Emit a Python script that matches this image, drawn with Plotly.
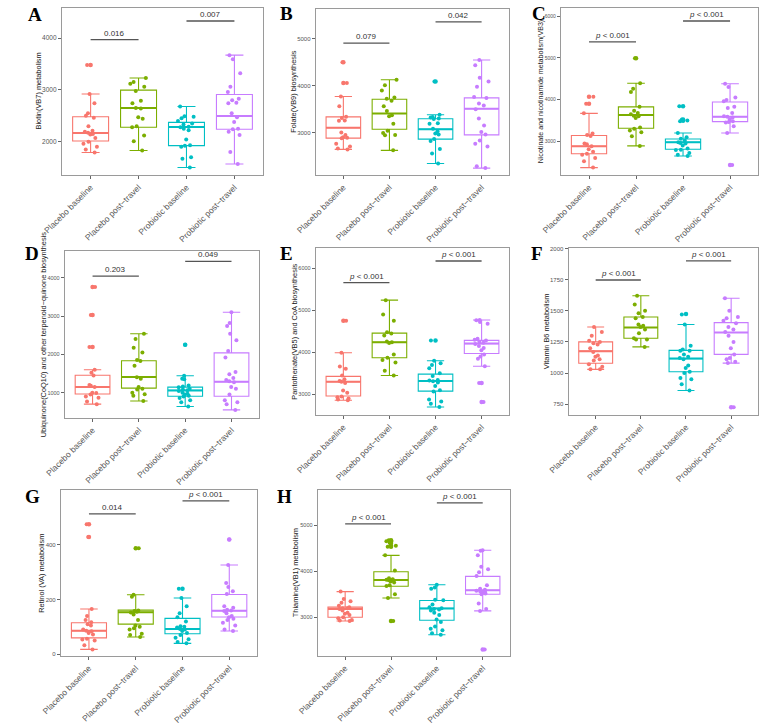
import plotly.graph_objects as go

W, H = 767, 725

CATS = ["Placebo baseline", "Placebo post\u2212travel", "Probiotic baseline", "Probiotic post\u2212travel"]
COLORS = ["#F8766D", "#7CAE00", "#00BFC4", "#C77CFF"]
PVAL = "<i>p</i> < 0.001"

# ---------------- Panel A ----------------
A_TITLE = "Biotin(VB7) metabolism"
A_PB = [3480, 2920, 2740, 2550, 2500, 2460, 2300, 2210, 2190, 2170, 2150, 2140, 2070, 2000, 1960, 1900, 1850, 1790]
A_PT = [3230, 3150, 3120, 3060, 2980, 2790, 2740, 2650, 2640, 2470, 2440, 2300, 2280, 2120, 2010, 1830]
A_RB = [2680, 2490, 2480, 2450, 2400, 2350, 2330, 2290, 2280, 2250, 2220, 2040, 1930, 1920, 1900, 1700, 1670, 1500]
A_RT = [3670, 3590, 3320, 3060, 2960, 2830, 2800, 2750, 2740, 2550, 2470, 2380, 2250, 2240, 2190, 2130, 1800, 1570]
A_BOX = [[2013, 2165, 2481, 1790, 2920], [2278, 2652, 2994, 1830, 3230], [1924, 2285, 2373, 1500, 2680], [2241, 2494, 2911, 1570, 3670]]
A_OUT = [[3480], [], [], []]
A_SIG = [3968, 4329]
A_SIGTXT = ["0.016", "0.007"]
A_TICKS = [2000, 3000, 4000]

# ---------------- Panel B ----------------
B_TITLE = "Folate(VB9) biosynthesis"
B_PB = [4500, 4060, 3770, 3560, 3340, 3310, 3260, 3250, 3000, 2950, 2900, 2890, 2880, 2760, 2700, 2660, 2640]
B_PT = [4130, 4010, 3900, 3750, 3720, 3680, 3560, 3460, 3370, 3350, 3190, 3040, 2990, 2950, 2940, 2620]
B_RB = [4090, 3380, 3330, 3320, 3300, 3290, 3200, 3190, 3080, 3030, 2980, 2960, 2860, 2820, 2650, 2550, 2340]
B_RT = [4550, 4440, 4170, 4090, 3980, 3760, 3740, 3620, 3580, 3500, 3300, 3150, 3010, 2960, 2830, 2760, 2700, 2280, 2240]
B_BOX = [[2881, 3105, 3336, 2640, 3770], [3070, 3406, 3713, 2620, 4130], [2860, 3070, 3294, 2340, 3380], [2951, 3510, 3741, 2240, 4550]]
B_OUT = [[4500, 4060], [], [4090], []]
B_SIG = [4909, 5364]
B_SIGTXT = ["0.079", "0.042"]
B_TICKS = [3000, 4000, 5000]

# ---------------- Panel C ----------------
C_TITLE = "Nicotinate and nicotinamide metabolism(VB3)"
C_PB = [4070, 3900, 3670, 3190, 3150, 3130, 2950, 2930, 2880, 2810, 2750, 2700, 2680, 2600, 2520, 2370]
C_PT = [4990, 4390, 4260, 4180, 3830, 3730, 3680, 3650, 3610, 3600, 3560, 3330, 3300, 3260, 3220, 3120, 2890]
C_RB = [3840, 3520, 3500, 3480, 3200, 3100, 3060, 3020, 2980, 2960, 2950, 2900, 2830, 2800, 2790, 2720, 2680, 2650]
C_RT = [4380, 4300, 4050, 3990, 3960, 3830, 3800, 3680, 3600, 3590, 3570, 3520, 3480, 3460, 3450, 3360, 3200, 2430]
C_BOX = [[2701, 2881, 3141, 2370, 3670], [3313, 3628, 3824, 2890, 4390], [2811, 2976, 3054, 2650, 3200], [3471, 3588, 3942, 3200, 4380]]
C_OUT = [[4070, 3900], [4990], [3840, 3520, 3490], [2430]]
C_SIG = [5380, 5882]
C_SIGTXT = [PVAL, PVAL]
C_TICKS = [3000, 4000, 5000, 6000]

# ---------------- Panel D ----------------
D_TITLE = "Ubiquinone(CoQ10) and other terpenoid\u2212quinone biosynthesis"
D_PB = [3760, 3030, 2190, 1600, 1520, 1450, 1200, 1180, 1150, 1000, 990, 950, 900, 870, 770, 700]
D_PT = [2540, 2400, 2170, 2050, 1850, 1830, 1700, 1400, 1360, 1150, 1100, 1080, 1000, 960, 920, 780]
D_RB = [2250, 1440, 1360, 1350, 1190, 1160, 1140, 1100, 1080, 1060, 1040, 1000, 970, 950, 920, 900, 860, 800, 750, 640]
D_RT = [3100, 2820, 2740, 2540, 2370, 2090, 1920, 1540, 1480, 1380, 1330, 1300, 1270, 1150, 1100, 950, 800, 750, 700, 550]
D_BOX = [[965, 1145, 1455, 700, 1600], [1119, 1412, 1833, 780, 2540], [905, 1059, 1145, 640, 1440], [905, 1283, 2040, 550, 3100]]
D_OUT = [[3760, 3030, 2190], [], [2250], []]
D_SIG = [4043, 4430]
D_SIGTXT = ["0.203", "0.049"]
D_TICKS = [1000, 2000, 3000, 4000]

# ---------------- Panel E ----------------
E_TITLE = "Pantothenate(VB5) and CoA biosynthesis"
E_PB = [4750, 3990, 3660, 3610, 3450, 3360, 3320, 3300, 3270, 3090, 3040, 2950, 2930, 2900, 2880, 2860]
E_PT = [5240, 4900, 4750, 4480, 4450, 4400, 4260, 4240, 4220, 3950, 3870, 3820, 3760, 3560, 3450]
E_RB = [4280, 3800, 3740, 3700, 3620, 3500, 3440, 3340, 3330, 3310, 3280, 3200, 3100, 3070, 2880, 2830, 2780, 2700]
E_RT = [4770, 4760, 4720, 4680, 4320, 4300, 4280, 4250, 4230, 4200, 4150, 4100, 4050, 3950, 3900, 3850, 3670, 3270, 2820]
E_BOX = [[2960, 3303, 3428, 2860, 3990], [3872, 4239, 4457, 3450, 5240], [3077, 3319, 3482, 2700, 3800], [3973, 4207, 4285, 3670, 4770]]
E_OUT = [[4750], [], [4280], [3270, 2820]]
E_SIG = [5657, 6171]
E_SIGTXT = [PVAL, PVAL]
E_TICKS = [3000, 4000, 5000, 6000]

# ---------------- Panel F ----------------
F_TITLE = "Vitamin B6 metabolism"
F_PB = [1370, 1330, 1300, 1260, 1250, 1240, 1230, 1200, 1170, 1140, 1130, 1110, 1100, 1070, 1050, 1030, 1030]
F_PT = [1620, 1550, 1500, 1480, 1450, 1440, 1390, 1380, 1370, 1350, 1320, 1280, 1270, 1270, 1210]
F_RB = [1470, 1390, 1220, 1190, 1180, 1180, 1150, 1130, 1120, 1110, 1060, 1040, 1010, 1000, 960, 950, 910, 860]
F_RT = [1600, 1500, 1450, 1440, 1420, 1400, 1370, 1350, 1330, 1300, 1250, 1200, 1150, 1120, 1110, 1090, 1080, 725]
F_BOX = [[1079, 1176, 1250, 1030, 1370], [1279, 1366, 1450, 1210, 1620], [1011, 1116, 1182, 860, 1390], [1150, 1326, 1405, 1080, 1600]]
F_OUT = [[], [], [1474], [725]]
F_SIG = [1747, 1900]
F_SIGTXT = [PVAL, PVAL]
F_TICKS = [750, 1000, 1250, 1500, 1750, 2000]

# ---------------- Panel G ----------------
G_TITLE = "Retinol (VA) metabolism"
G_PB = [474, 427, 165, 140, 125, 117, 110, 105, 90, 86, 84, 78, 72, 57, 54, 50, 33, 18]
G_PT = [386, 217, 210, 160, 158, 155, 152, 145, 125, 105, 100, 95, 90, 75, 70, 63]
G_RB = [239, 205, 175, 150, 135, 120, 102, 100, 98, 92, 90, 85, 78, 70, 60, 55, 45, 40]
G_RT = [418, 325, 260, 245, 230, 220, 175, 170, 162, 160, 158, 150, 140, 135, 130, 125, 115, 105, 90, 85]
G_BOX = [[60, 86, 115, 18, 165], [110, 153, 161, 63, 217], [75, 92, 131, 40, 205], [136, 159, 218, 85, 325]]
G_OUT = [[474, 427], [386], [239], [418]]
G_SIG = [511, 559]
G_SIGTXT = ["0.014", PVAL]
G_TICKS = [0, 200, 400]

# ---------------- Panel H ----------------
H_TITLE = "Thiamine(VB1) metabolism"
H_PB = [3560, 3400, 3350, 3320, 3250, 3220, 3200, 3200, 3180, 3150, 3100, 3080, 3050, 3000, 2980, 2940, 2930, 2920]
H_PT = [4680, 4660, 4620, 4560, 4540, 4350, 4020, 3850, 3830, 3820, 3810, 3800, 3780, 3760, 3700, 3680, 3500, 3420, 2920]
H_RB = [3710, 3650, 3620, 3380, 3370, 3280, 3220, 3200, 3180, 3170, 3150, 3100, 3050, 2950, 2900, 2800, 2750, 2720, 2650, 2620]
H_RT = [4460, 4450, 4350, 4100, 4050, 3980, 3900, 3700, 3620, 3600, 3580, 3560, 3550, 3540, 3520, 3500, 3300, 3180, 3140, 2300]
H_BOX = [[3000, 3180, 3223, 2920, 3560], [3676, 3813, 3993, 3420, 4350], [2935, 3194, 3367, 2620, 3710], [3504, 3590, 3892, 3140, 4460]]
H_OUT = [[], [4680, 4660, 4620, 4560, 4540, 2920], [], [2300]]
H_SIG = [5036, 5493]
H_SIGTXT = [PVAL, PVAL]
H_TICKS = [3000, 4000, 5000]

PANELS = [
    ("A", A_TITLE, [A_PB, A_PT, A_RB, A_RT], A_BOX, A_OUT, A_SIG, A_SIGTXT, A_TICKS),
    ("B", B_TITLE, [B_PB, B_PT, B_RB, B_RT], B_BOX, B_OUT, B_SIG, B_SIGTXT, B_TICKS),
    ("C", C_TITLE, [C_PB, C_PT, C_RB, C_RT], C_BOX, C_OUT, C_SIG, C_SIGTXT, C_TICKS),
    ("D", D_TITLE, [D_PB, D_PT, D_RB, D_RT], D_BOX, D_OUT, D_SIG, D_SIGTXT, D_TICKS),
    ("E", E_TITLE, [E_PB, E_PT, E_RB, E_RT], E_BOX, E_OUT, E_SIG, E_SIGTXT, E_TICKS),
    ("F", F_TITLE, [F_PB, F_PT, F_RB, F_RT], F_BOX, F_OUT, F_SIG, F_SIGTXT, F_TICKS),
    ("G", G_TITLE, [G_PB, G_PT, G_RB, G_RT], G_BOX, G_OUT, G_SIG, G_SIGTXT, G_TICKS),
    ("H", H_TITLE, [H_PB, H_PT, H_RB, H_RT], H_BOX, H_OUT, H_SIG, H_SIGTXT, H_TICKS),
]

# layout geometry (pixels): plot box left, right, top, bottom; y range; title x; tick/title font; letter x,y
GEOM = {
    "A": dict(box=(42, 249, 6, 176), yr=(1355, 4582), tx=17.5, tf=6.5, hf=7.4, lx=14, ly=13),
    "B": dict(box=(303, 502, 7, 176), yr=(2091, 5643), tx=280.5, tf=6, hf=7.4, lx=273, ly=12),
    "C": dict(box=(555, 758, 6, 176), yr=(2191, 6196), tx=535.5, tf=5, hf=7.1, lx=533, ly=12),
    "D": dict(box=(45, 245, 253, 423), yr=(338, 4705), tx=23.5, tf=5.5, hf=7.4, lx=11, ly=256),
    "E": dict(box=(303, 502, 250, 420), yr=(2509, 6483), tx=281, tf=5.5, hf=7.4, lx=273, ly=256),
    "F": dict(box=(563, 758, 250, 420), yr=(663, 2005), tx=540.5, tf=6, hf=7.4, lx=531, ly=256),
    "G": dict(box=(41, 243, 496, 665), yr=(-6, 599), tx=21.5, tf=6, hf=7.4, lx=12, ly=503),
    "H": dict(box=(305, 503, 496, 665), yr=(2157, 5779), tx=283, tf=5.5, hf=7.4, lx=271, ly=503),
}

FONT = "Liberation Sans, Arial, sans-serif"
fig = go.Figure()
annotations = []
shapes = []
layout_axes = {}

for i, (letter, title, pts, box, outs, sig, sigtxt, ticks) in enumerate(PANELS):
    n = i + 1
    xa = "x" if n == 1 else f"x{n}"
    ya = "y" if n == 1 else f"y{n}"
    g = GEOM[letter]
    l, r, t, b = g["box"]
    for k in range(4):
        c = COLORS[k]
        q1, med, q3, lo, hi = box[k]
        # box (precomputed statistics)
        fig.add_trace(go.Box(
            x=[CATS[k]], q1=[q1], median=[med], q3=[q3], lowerfence=[lo], upperfence=[hi],
            orientation="v", width=0.75, line=dict(color=c, width=1.1), fillcolor="white",
            boxpoints=False, xaxis=xa, yaxis=ya, showlegend=False, hoverinfo="skip"))
        # thicker median line
        fig.add_trace(go.Box(
            x=[CATS[k]], q1=[med], median=[med], q3=[med], lowerfence=[med], upperfence=[med],
            orientation="v", width=0.75, line=dict(color=c, width=2.0), fillcolor="rgba(0,0,0,0)",
            boxpoints=False, xaxis=xa, yaxis=ya, showlegend=False, hoverinfo="skip"))
        # jittered sample points
        fig.add_trace(go.Box(
            x=[CATS[k]] * len(pts[k]), y=pts[k], boxpoints="all", jitter=0.5, pointpos=0,
            width=0.75, line=dict(color="rgba(0,0,0,0)", width=0), fillcolor="rgba(0,0,0,0)",
            marker=dict(color=c, size=4, line=dict(width=0)),
            xaxis=xa, yaxis=ya, showlegend=False, hoverinfo="skip"))
        # boxplot outliers (centered)
        if outs[k]:
            fig.add_trace(go.Scatter(
                x=[CATS[k]] * len(outs[k]), y=outs[k], mode="markers",
                marker=dict(color=c, size=4.5, line=dict(width=0)),
                xaxis=xa, yaxis=ya, showlegend=False, hoverinfo="skip"))

    # significance bars
    for j, (yv, txt) in enumerate(zip(sig, sigtxt)):
        x0, x1 = 2 * j, 2 * j + 1
        shapes.append(dict(type="line", xref=xa, yref=ya, x0=x0, x1=x1, y0=yv, y1=yv,
                           line=dict(color="#555555", width=1.3)))
        annotations.append(dict(xref=xa, yref=ya, x=(x0 + x1) / 2, y=yv, text=txt,
                                showarrow=False, yanchor="bottom", yshift=0,
                                font=dict(family=FONT, size=8, color="#333333")))

    axis_key_x = "xaxis" if n == 1 else f"xaxis{n}"
    axis_key_y = "yaxis" if n == 1 else f"yaxis{n}"
    layout_axes[axis_key_x] = dict(
        domain=[l / W, r / W], anchor=ya, type="category",
        categoryorder="array", categoryarray=CATS, range=[-0.6, 3.6],
        tickangle=-45, tickfont=dict(family=FONT, size=8.5, color="#5a5a5a"),
        showline=True, mirror=True, linecolor="#9a9a9a", linewidth=1,
        ticks="outside", ticklen=3, tickcolor="#666666", tickwidth=0.8,
        showgrid=False, zeroline=False)
    layout_axes[axis_key_y] = dict(
        domain=[1 - b / H, 1 - t / H], anchor=xa, range=list(g["yr"]),
        tickvals=ticks, ticktext=[str(v) for v in ticks],
        tickfont=dict(family=FONT, size=g["tf"], color="#555555"),
        showline=True, mirror=True, linecolor="#9a9a9a", linewidth=1,
        ticks="outside", ticklen=3, tickcolor="#666666", tickwidth=0.8,
        showgrid=False, zeroline=False)

    # y-axis title
    annotations.append(dict(xref="paper", yref="paper", x=g["tx"] / W, y=1 - ((t + b) / 2) / H,
                            text=title, textangle=-90, showarrow=False,
                            xanchor="center", yanchor="middle",
                            font=dict(family=FONT, size=g["hf"], color="#222222")))
    # panel letter
    annotations.append(dict(xref="paper", yref="paper", x=g["lx"] / W, y=1 - g["ly"] / H,
                            text=f"<b>{letter}</b>", showarrow=False,
                            xanchor="center", yanchor="middle",
                            font=dict(family="Liberation Serif, Times New Roman, serif", size=19, color="black")))

fig.update_layout(
    width=W, height=H, margin=dict(l=0, r=0, t=0, b=0),
    paper_bgcolor="white", plot_bgcolor="white",
    boxmode="overlay", showlegend=False,
    annotations=annotations, shapes=shapes,
    **layout_axes)

fig.write_html("out.html")
